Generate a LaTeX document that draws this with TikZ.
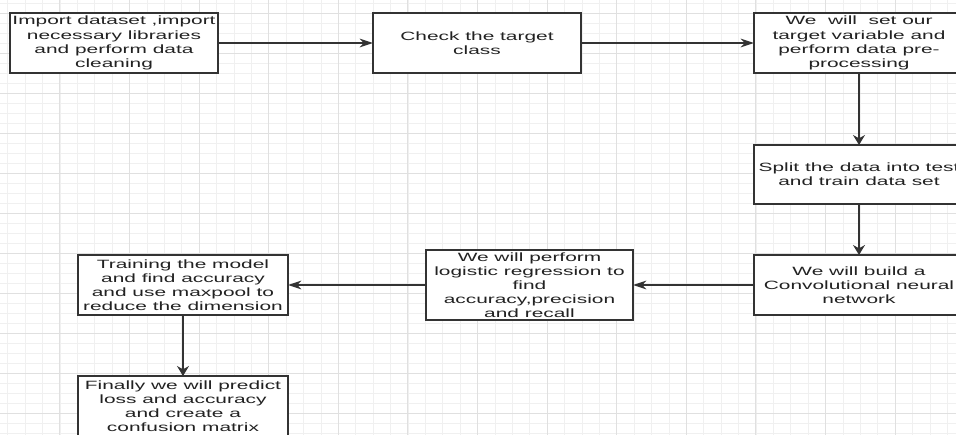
\documentclass[tikz,border=0pt]{standalone}
\usepackage{fontspec}
\setmainfont{Liberation Sans}[FakeStretch=1.74]
\usetikzlibrary{arrows.meta}
\definecolor{gridminor}{HTML}{F0F0F0}
\definecolor{gridmajor}{HTML}{E0E0E0}
\definecolor{boxline}{HTML}{333333}
\definecolor{txt}{HTML}{222222}
\tikzset{
  stepbox/.style={draw=boxline, line width=1.1pt, fill=white, inner sep=0pt, outer sep=0pt,
    align=center, text=txt, font=\fontsize{9}{10.6}\selectfont},
  harrow/.style={draw=boxline, line width=1.1pt, -{Stealth[length=10pt,width=6.5pt,inset=3pt]}},
  varrow/.style={draw=boxline, line width=1.1pt, -{Stealth[length=7.5pt,width=9pt,inset=2.5pt]}},
}
\begin{document}
\begin{tikzpicture}[x=0.75pt,y=-0.75pt]
\useasboundingbox (0,0) rectangle (956,435);
\clip (0,0) rectangle (956,435);
\fill[white] (0,0) rectangle (956,435);
% minor grid
\foreach \k in {0,...,54} {\draw[gridminor, line width=0.6pt] ({7.7+17.4*\k},0) -- ({7.7+17.4*\k},435);}
\foreach \k in {0,...,43} {\draw[gridminor, line width=0.6pt] (0,{3.3+10*\k}) -- (956,{3.3+10*\k});}
% major grid
\foreach \k in {0,...,13} {\draw[gridmajor, line width=0.7pt] ({59.9+69.6*\k},0) -- ({59.9+69.6*\k},435);}
\foreach \k in {0,...,10} {\draw[gridmajor, line width=0.7pt] (0,{13.3+40*\k}) -- (956,{13.3+40*\k});}

% boxes
\node[stepbox, minimum width=156pt, minimum height=45pt] (b1) at (114,43)
  {Import dataset ,import\\necessary libraries\\and perform data\\cleaning};
\node[stepbox, minimum width=156pt, minimum height=45pt] (b2) at (477,43)
  {Check the target\\class};
\node[stepbox, minimum width=157.5pt, minimum height=45pt] (b3) at (859,43)
  {We\ \ will\ \ set our\\target variable and\\perform data pre-\\processing};
\node[stepbox, minimum width=157.5pt, minimum height=44.25pt] (b4) at (859,174.5)
  {Split the data into test\\and train data set};
\node[stepbox, minimum width=157.5pt, minimum height=45pt] (b5) at (859,285)
  {We will build a\\Convolutional neural\\network};
\node[stepbox, minimum width=155.25pt, minimum height=52.5pt] (b6) at (529.5,285)
  {We will perform\\logistic regression to\\find\\accuracy,precision\\and recall};
\node[stepbox, minimum width=157.5pt, minimum height=45pt] (b7) at (183,285)
  {Training the model\\and find accuracy\\and use maxpool to\\reduce the dimension};
\node[stepbox, minimum width=157.5pt, minimum height=45pt] (b8) at (183,406)
  {Finally we will predict\\loss and accuracy\\and create a\\confusion matrix};

% connectors
\draw[harrow] (b1) -- (b2);
\draw[harrow] (b2) -- (b3);
\draw[varrow] (b3) -- (b4);
\draw[varrow] (b4) -- (b5);
\draw[harrow] (b5) -- (b6);
\draw[harrow] (b6) -- (b7);
\draw[varrow] (b7) -- (b8);
\end{tikzpicture}
\end{document}
